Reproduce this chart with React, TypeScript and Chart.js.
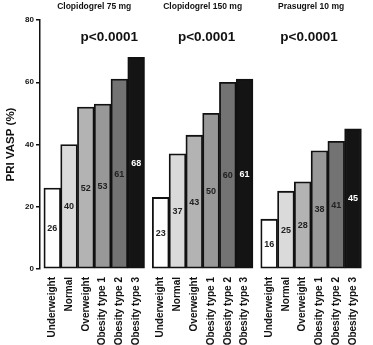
import React, { useEffect, useRef } from 'react';
import { Chart, registerables } from 'chart.js';

Chart.register(...registerables);

const categories = ['Underweight', 'Normal', 'Overweight', 'Obesity type 1', 'Obesity type 2', 'Obesity type 3'];
const groups = ['Clopidogrel 75 mg', 'Clopidogrel 150 mg', 'Prasugrel 10 mg'];
const pValues = ['p<0.0001', 'p<0.0001', 'p<0.0001'];
const clopidogrel75 = [26, 40, 52, 53, 61, 68];
const clopidogrel150 = [23, 37, 43, 50, 60, 61];
const prasugrel10 = [16, 25, 28, 38, 41, 45];
const yTicks = [0, 20, 40, 60, 80];

const series = [clopidogrel75, clopidogrel150, prasugrel10];
const barColors = ['#ffffff', '#dadada', '#b3b3b3', '#989898', '#737373', '#141414'];
const labelColors = ['#222222', '#222222', '#222222', '#222222', '#222222', '#ffffff'];
const GROUP_STEP = 6.465;
const pShift = [15, 4, -2];
const FONT = '"Liberation Sans", Arial, sans-serif';

export default function App() {
  const ref = useRef<HTMLCanvasElement | null>(null);

  useEffect(() => {
    const canvas = ref.current;
    if (!canvas) return;
    const points: { x: number; y: number }[] = [];
    const colors: string[] = [];
    const tickPos: number[] = [];
    series.forEach((vals, g) => {
      vals.forEach((v, i) => {
        const x = g * GROUP_STEP + i;
        points.push({ x, y: v });
        colors.push(barColors[i]);
        tickPos.push(x);
      });
    });

    const textPlugin = {
      id: 'texts',
      afterDatasetsDraw(chart: any) {
        const ctx = chart.ctx;
        const xs = chart.scales.x;
        const ys = chart.scales.y;
        ctx.save();
        ctx.textAlign = 'center';
        ctx.textBaseline = 'middle';
        // value labels
        ctx.font = `bold 9px ${FONT}`;
        points.forEach((p, k) => {
          ctx.fillStyle = labelColors[k % 6];
          ctx.fillText(String(p.y), xs.getPixelForValue(p.x), ys.getPixelForValue(p.y / 2));
        });
        // group titles and p-values
        groups.forEach((name, g) => {
          const cx = xs.getPixelForValue(g * GROUP_STEP + 2.5);
          ctx.fillStyle = '#111';
          ctx.font = `bold 8.5px ${FONT}`;
          ctx.fillText(name, cx, 7);
          ctx.font = `bold 13.5px ${FONT}`;
          ctx.fillText(pValues[g], cx + pShift[g], 37);
        });
        ctx.restore();
      },
    };

    const chart = new Chart(canvas, {
      type: 'bar',
      data: {
        datasets: [
          {
            data: points as any,
            backgroundColor: colors,
            borderColor: '#111111',
            borderWidth: 1.8,
            borderSkipped: false,
            barPercentage: 1,
            categoryPercentage: 1,
          },
        ],
      },
      options: {
        animation: false,
        responsive: false,
        maintainAspectRatio: false,
        layout: { padding: { top: 20, left: 0, right: 0, bottom: 0 } },
        plugins: { legend: { display: false }, tooltip: { enabled: false } },
        scales: {
          x: {
            type: 'linear',
            offset: false,
            min: -0.732,
            max: 2 * GROUP_STEP + 5.5 + 0.17,
            grid: { display: false, drawTicks: false },
            border: { display: false },
            afterBuildTicks: (scale: any) => {
              scale.ticks = tickPos.map((v) => ({ value: v }));
            },
            afterFit: (scale: any) => {
              scale.height = 76;
            },
            ticks: {
              autoSkip: false,
              minRotation: 90,
              maxRotation: 90,
              padding: 8,
              color: '#111',
              font: { family: FONT, size: 10, weight: 'bold' },
              callback: (_v: any, idx: number) => categories[idx % 6],
            },
          },
          y: {
            min: 0,
            max: 80,
            afterBuildTicks: (scale: any) => {
              scale.ticks = yTicks.map((v) => ({ value: v }));
            },
            afterFit: (scale: any) => {
              scale.width = 40;
            },
            grid: {
              display: true,
              drawOnChartArea: false,
              drawTicks: true,
              tickLength: 4,
              color: '#111',
              lineWidth: 1.5,
            },
            border: { display: true, color: '#111', width: 1.5 },
            ticks: {
              padding: 2,
              color: '#111',
              font: { family: FONT, size: 8, weight: 'bold' },
            },
            title: {
              display: true,
              text: 'PRI VASP (%)',
              color: '#111',
              padding: { top: 4, bottom: 0 },
              font: { family: FONT, size: 11.5, weight: 'bold' },
            },
          },
        },
      },
      plugins: [textPlugin],
    });
    return () => chart.destroy();
  }, []);

  return (
    <div style={{ position: 'fixed', left: 0, top: 0, width: 373, height: 345, background: '#fff' }}>
      <canvas ref={ref} width={373} height={345} style={{ width: 373, height: 345, display: 'block' }} />
    </div>
  );
}
